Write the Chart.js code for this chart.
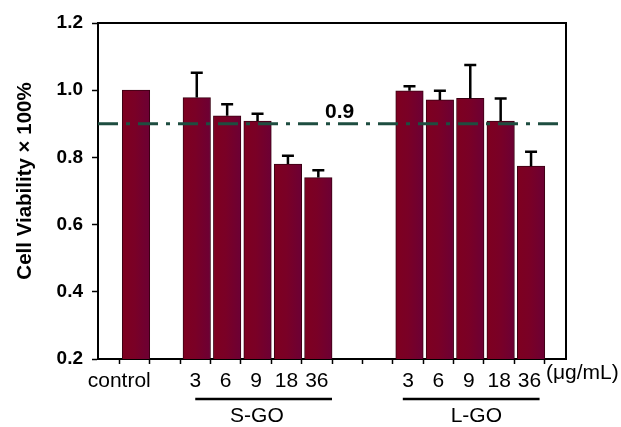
<!DOCTYPE html>
<html>
<head>
<meta charset="utf-8">
<script src="https://cdn.jsdelivr.net/npm/chart.js@4/dist/chart.umd.min.js"></script>
<style>
  html, body { margin: 0; padding: 0; background: #fff; }
  #wrap { width: 621px; height: 427px; }
</style>
</head>
<body>
<div id="wrap"><canvas id="c" width="621" height="427"></canvas></div>
<script>
// ---- data ----
const doses = ['3', '6', '9', '18', '36'];
const controlValue = [1.00];
const sgoValues = [0.978, 0.924, 0.908, 0.780, 0.740];
const sgoErrors = [0.074, 0.034, 0.022, 0.025, 0.022];
const lgoValues = [0.998, 0.971, 0.976, 0.908, 0.774];
const lgoErrors = [0.014, 0.027, 0.099, 0.067, 0.043];
const threshold = 0.9;
const yTicks = [0.2, 0.4, 0.6, 0.8, 1.0, 1.2];
const groupNames = ['S-GO', 'L-GO'];
const unitLabel = '(\u03bcg/mL)';
const yTitle = 'Cell Viability \u00d7 100%';

// ---- layout helpers (slot positions on a linear x scale) ----
const X_MIN = -0.7, X_MAX = 14.7;
const controlSlot = 0, sgoStart = 2, lgoStart = 9;
const FONT = "'Liberation Sans', Arial, sans-serif";

const barPoints = [];
const barErrors = [];
controlValue.forEach(v => { barPoints.push({ x: controlSlot + 0.55, y: v }); barErrors.push(0); });
sgoValues.forEach((v, i) => { barPoints.push({ x: sgoStart + i + 0.55, y: v }); barErrors.push(sgoErrors[i]); });
lgoValues.forEach((v, i) => { barPoints.push({ x: lgoStart + i + 0.55, y: v }); barErrors.push(lgoErrors[i]); });

// tick label map
const labelMap = {};
labelMap[controlSlot] = 'control';
doses.forEach((d, i) => { labelMap[sgoStart + i + 0.5] = d; labelMap[lgoStart + i + 0.5] = d; });
const tickValues = [];
for (let k = 0; k <= 14; k++) tickValues.push(k);
Object.keys(labelMap).forEach(k => { const v = parseFloat(k); if (!tickValues.includes(v)) tickValues.push(v); });
tickValues.sort((a, b) => a - b);

const decorPlugin = {
  id: 'decor',
  beforeDatasetsDraw(chart) {
    const ctx = chart.ctx;
    const meta = chart.getDatasetMeta(0);
    meta.data.forEach(el => {
      const w = el.width || 27;
      const g = ctx.createLinearGradient(el.x - w / 2, 0, el.x + w / 2, 0);
      g.addColorStop(0, '#7e0020');
      g.addColorStop(0.45, '#7a0026');
      g.addColorStop(1, '#6c0034');
      el.options = Object.assign({}, el.options, { backgroundColor: g });
    });
  },
  afterDatasetsDraw(chart) {
    const ctx = chart.ctx;
    const ys = chart.scales.y;
    const meta = chart.getDatasetMeta(0);
    ctx.save();
    ctx.strokeStyle = '#000';
    ctx.lineWidth = 2.5;
    meta.data.forEach((el, i) => {
      const err = barErrors[i];
      if (!err) return;
      const yTop = ys.getPixelForValue(barPoints[i].y + err);
      ctx.beginPath();
      ctx.moveTo(el.x, el.y);
      ctx.lineTo(el.x, yTop);
      ctx.moveTo(el.x - 6, yTop);
      ctx.lineTo(el.x + 6, yTop);
      ctx.stroke();
    });
    ctx.restore();
  },
  afterDraw(chart) {
    const ctx = chart.ctx;
    const xs = chart.scales.x, ys = chart.scales.y;
    const a = chart.chartArea;
    ctx.save();
    ctx.strokeStyle = '#000';
    ctx.lineWidth = 2;
    ctx.beginPath();
    ctx.moveTo(a.left, a.top);
    ctx.lineTo(a.right, a.top);
    ctx.lineTo(a.right, a.bottom);
    ctx.stroke();
    ctx.fillStyle = '#000';
    ctx.font = 'bold 21px ' + FONT;
    ctx.textAlign = 'center';
    ctx.textBaseline = 'middle';
    ctx.fillText(threshold.toFixed(1), xs.getPixelForValue(7.25), ys.getPixelForValue(threshold) - 12);
    const groups = [
      { name: groupNames[0], from: sgoStart + 0.5, to: sgoStart + 5, mid: sgoStart + 2.53 },
      { name: groupNames[1], from: lgoStart + 0.33, to: lgoStart + 4.83, mid: lgoStart + 2.75 }
    ];
    ctx.lineWidth = 2.5;
    ctx.font = '21px ' + FONT;
    groups.forEach(g => {
      ctx.beginPath();
      ctx.moveTo(xs.getPixelForValue(g.from), 399);
      ctx.lineTo(xs.getPixelForValue(g.to), 399);
      ctx.stroke();
      ctx.fillText(g.name, xs.getPixelForValue(g.mid), 416);
    });
    ctx.textAlign = 'left';
    ctx.fillText(unitLabel, 546, 373);
    ctx.translate(25, 181);
    ctx.rotate(-Math.PI / 2);
    ctx.textAlign = 'center';
    ctx.font = 'bold 20.5px ' + FONT;
    ctx.fillText(yTitle, 0, 0);
    ctx.restore();
  }
};

new Chart(document.getElementById('c'), {
  data: {
    datasets: [
      {
        type: 'bar',
        data: barPoints,
        backgroundColor: '#780026',
        borderColor: '#3a0012',
        borderWidth: 1,
        barThickness: 27.5,
        order: 2
      },
      {
        type: 'line',
        data: [{ x: X_MIN, y: threshold }, { x: X_MAX, y: threshold }],
        borderColor: '#1e4d40',
        borderWidth: 3,
        borderDash: [20, 8, 4, 8],
        pointRadius: 0,
        order: 1
      }
    ]
  },
  options: {
    responsive: false,
    animation: false,
    events: [],
    layout: { padding: { top: 23, right: 55, left: 0, bottom: 0 } },
    plugins: { legend: { display: false }, tooltip: { enabled: false } },
    scales: {
      x: {
        type: 'linear',
        offset: false,
        min: X_MIN,
        max: X_MAX,
        afterBuildTicks(scale) { scale.ticks = tickValues.map(v => ({ value: v })); },
        afterFit(scale) { scale.height = 427 - 359; },
        border: { display: true, color: '#000', width: 2 },
        grid: {
          offset: false,
          drawOnChartArea: false,
          drawTicks: true,
          tickLength: 5,
          tickWidth: 1.5,
          tickColor: (c) => (c.tick && Number.isInteger(c.tick.value)) ? '#000' : 'rgba(0,0,0,0)'
        },
        ticks: {
          autoSkip: false,
          maxRotation: 0,
          padding: 5,
          color: '#000',
          font: { family: FONT, size: 21 },
          callback: (v) => labelMap[v] !== undefined ? labelMap[v] : ''
        }
      },
      y: {
        min: 0.2,
        max: 1.2,
        afterBuildTicks(scale) { scale.ticks = yTicks.map(v => ({ value: v })); },
        afterFit(scale) { scale.width = 98; },
        border: { display: true, color: '#000', width: 2 },
        grid: { drawOnChartArea: false, tickLength: 6, tickWidth: 1.5, tickColor: '#000' },
        ticks: {
          padding: 9,
          color: '#000',
          font: { family: FONT, size: 19, weight: 'bold' },
          callback: (v) => v.toFixed(1)
        }
      }
    }
  },
  plugins: [decorPlugin]
});
</script>
</body>
</html>
